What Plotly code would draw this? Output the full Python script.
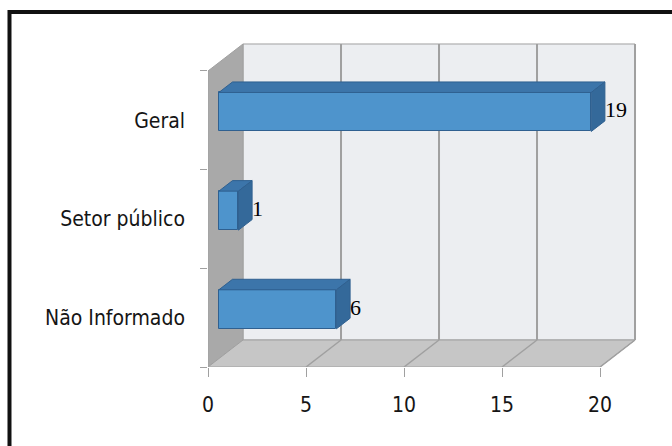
import plotly.graph_objects as go

# Chart data
categories = ["Não Informado", "Setor público", "Geral"]
values = [6, 1, 19]
x_ticks = [0, 5, 10, 15, 20]

# Oblique "3D" projection, expressed in axis units
DX, DY = 1.786, 0.2736          # full depth of the box (x units, y units)
F_FRONT, F_BACK = 0.31, 0.70    # depth slice occupied by the bars
BAR_W = 0.395                   # bar thickness in category units
X_MAX = 20
Y_LO, Y_HI = -0.5, len(categories) - 0.5

FRONT = "#4e94cc"
TOP = "#3c75aa"
SIDE = "#34699a"
EDGE = "#2f6090"
GRID = "#a0a0a0"

pos = list(range(len(categories)))

fig = go.Figure()

# Front faces of the bars
fig.add_trace(go.Bar(
    orientation="h",
    y=[p + F_FRONT * DY for p in pos],
    x=values,
    base=[F_FRONT * DX] * len(values),
    width=BAR_W,
    marker=dict(color=FRONT, line=dict(color=EDGE, width=1)),
    hoverinfo="skip",
    showlegend=False,
))

# Top and side faces of the bars
top_x, top_y, side_x, side_y = [], [], [], []
ddx, ddy = (F_BACK - F_FRONT) * DX, (F_BACK - F_FRONT) * DY
for p, v in zip(pos, values):
    x0 = F_FRONT * DX
    x1 = v + F_FRONT * DX
    yc = p + F_FRONT * DY
    yt, yb = yc + BAR_W / 2, yc - BAR_W / 2
    top_x += [x0, x1, x1 + ddx, x0 + ddx, x0, None]
    top_y += [yt, yt, yt + ddy, yt + ddy, yt, None]
    side_x += [x1, x1, x1 + ddx, x1 + ddx, x1, None]
    side_y += [yb, yt, yt + ddy, yb + ddy, yb, None]

for xs, ys, col in ((top_x, top_y, TOP), (side_x, side_y, SIDE)):
    fig.add_trace(go.Scatter(
        x=xs, y=ys, mode="lines", fill="toself", fillcolor=col,
        line=dict(color=EDGE, width=1), hoverinfo="skip", showlegend=False,
    ))

# Value labels
fig.add_trace(go.Scatter(
    x=[v + F_BACK * DX for v in values],
    y=[p + F_FRONT * DY for p in pos],
    mode="text",
    text=[str(v) for v in values],
    textposition="middle right",
    textfont=dict(family="Liberation Serif, Times New Roman, serif", size=22, color="#000"),
    hoverinfo="skip", showlegend=False, cliponaxis=False,
))

# Walls, floor and gridlines of the box
shapes = []
def poly(pts, fill, line_col=GRID, width=1):
    path = "M " + " L ".join(f"{x},{y}" for x, y in pts) + " Z"
    shapes.append(dict(type="path", path=path, xref="x", yref="y", layer="below",
                       fillcolor=fill, line=dict(color=line_col, width=width)))

# back wall
poly([(DX, Y_LO + DY), (X_MAX + DX, Y_LO + DY), (X_MAX + DX, Y_HI + DY), (DX, Y_HI + DY)], "#eceef1")
# left side wall
poly([(0, Y_LO), (0, Y_HI), (DX, Y_HI + DY), (DX, Y_LO + DY)], "#a9a9a9")
# floor
poly([(0, Y_LO), (X_MAX, Y_LO), (X_MAX + DX, Y_LO + DY), (DX, Y_LO + DY)], "#c6c6c6")

for t in x_ticks[1:]:
    shapes.append(dict(type="line", xref="x", yref="y", layer="below",
                       x0=t + DX, x1=t + DX, y0=Y_LO + DY, y1=Y_HI + DY,
                       line=dict(color=GRID, width=2)))
    shapes.append(dict(type="line", xref="x", yref="y", layer="below",
                       x0=t, x1=t + DX, y0=Y_LO, y1=Y_LO + DY,
                       line=dict(color=GRID, width=1.5)))

# outer frame (its right and bottom sides lie just past the page edge)
shapes.append(dict(type="rect", xref="paper", yref="paper",
                   x0=-0.4595, x1=1.0926, y0=-0.27, y1=1.0856,
                   line=dict(color="#111", width=4), fillcolor="rgba(0,0,0,0)"))

label_font = dict(family="Liberation Sans Narrow, DejaVu Sans Condensed, Arial Narrow, sans-serif",
                  size=21, color="#151515")

fig.update_layout(
    width=672, height=446,
    margin=dict(l=208, r=32, t=40, b=79),
    paper_bgcolor="white", plot_bgcolor="rgba(0,0,0,0)",
    shapes=shapes,
    bargap=0,
    xaxis=dict(
        range=[0, 432 / 19.6], showgrid=False, zeroline=False, showline=False,
        tickmode="array", tickvals=x_ticks, ticktext=[str(t) for t in x_ticks],
        ticks="outside", ticklen=9, tickcolor=GRID, tickwidth=1,
        tickfont=label_font, ticklabelstandoff=10,
    ),
    yaxis=dict(
        range=[Y_LO, Y_LO + 327 / 98.67], showgrid=False, zeroline=False, showline=False,
        tickmode="array", tickvals=pos, ticktext=categories, ticks="",
        tickfont=label_font, ticklabelstandoff=22,
        minor=dict(tickmode="linear", tick0=-0.5, dtick=1, ticks="outside",
                   ticklen=7, tickcolor=GRID, tickwidth=1, showgrid=False),
    ),
)

fig.write_html("out.html")
